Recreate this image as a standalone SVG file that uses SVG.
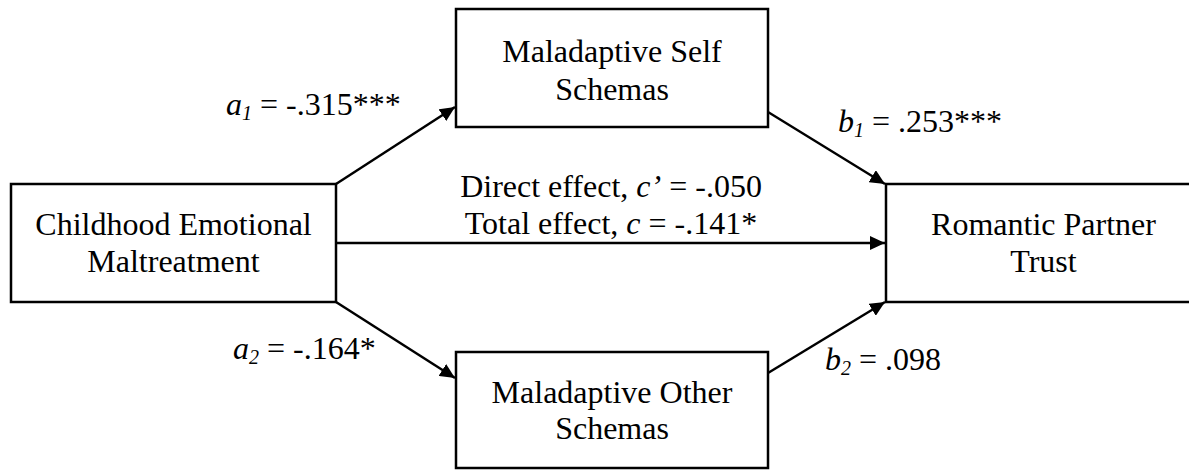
<svg xmlns="http://www.w3.org/2000/svg" width="1189" height="470" viewBox="0 0 1189 470">
<style>
.box{fill:#fff;stroke:#000;stroke-width:2.5}
.t{font-family:'Liberation Serif','Times New Roman',Tinos,'DejaVu Serif',serif;font-size:32px;fill:#000}
.c{text-anchor:middle}
.edge{stroke:#000;stroke-width:2.5;fill:none;marker-end:url(#ah)}
</style>
<defs>
<marker id="ah" markerUnits="userSpaceOnUse" markerWidth="16" markerHeight="14" refX="15" refY="7" orient="auto">
<path d="M0,0 L15,7 L0,14 z" fill="#000"/>
</marker>
</defs>
<rect width="1189" height="470" fill="#fff"/>
<g id="connectors">
<line class="edge" x1="336" y1="184" x2="455" y2="107"/>
<line class="edge" x1="768" y1="112" x2="885" y2="184"/>
<line class="edge" x1="336" y1="243" x2="885" y2="243"/>
<line class="edge" x1="336" y1="302" x2="455" y2="378"/>
<line class="edge" x1="768" y1="373" x2="885" y2="302"/>
</g>
<g id="node-self">
<rect class="box" x="456" y="9" width="312" height="118"/>
<text class="t c" x="612" y="62" font-family="Liberation Serif">Maladaptive Self</text>
<text class="t c" x="612" y="100">Schemas</text>
</g>
<g id="node-cem">
<rect class="box" x="11" y="184" width="325" height="118"/>
<text class="t c" x="173.5" y="235">Childhood Emotional</text>
<text class="t c" x="173.5" y="272">Maltreatment</text>
</g>
<g id="node-trust">
<rect class="box" x="886" y="184" width="320" height="118"/>
<text class="t c" x="1043.5" y="235">Romantic Partner</text>
<text class="t c" x="1043.5" y="272">Trust</text>
</g>
<g id="node-other">
<rect class="box" x="456" y="352" width="312" height="116"/>
<text class="t c" x="612" y="403">Maladaptive Other</text>
<text class="t c" x="612" y="439">Schemas</text>
</g>
<g id="labels">
<text class="t" x="226" y="115"><tspan font-style="italic">a</tspan><tspan font-style="italic" font-size="20" dy="5">1</tspan><tspan dy="-5"> = -.315***</tspan></text>
<text class="t" x="838" y="132"><tspan font-style="italic">b</tspan><tspan font-style="italic" font-size="20" dy="5">1</tspan><tspan dy="-5"> = .253***</tspan></text>
<text class="t" x="233" y="359"><tspan font-style="italic">a</tspan><tspan font-style="italic" font-size="20" dy="5">2</tspan><tspan dy="-5"> = -.164*</tspan></text>
<text class="t" x="825" y="370"><tspan font-style="italic">b</tspan><tspan font-style="italic" font-size="20" dy="5">2</tspan><tspan dy="-5"> = .098</tspan></text>
<text class="t c" x="611" y="197">Direct effect, <tspan font-style="italic">c’</tspan> = -.050</text>
<text class="t c" x="611" y="234">Total effect, <tspan font-style="italic">c</tspan> = -.141*</text>
</g>
</svg>
